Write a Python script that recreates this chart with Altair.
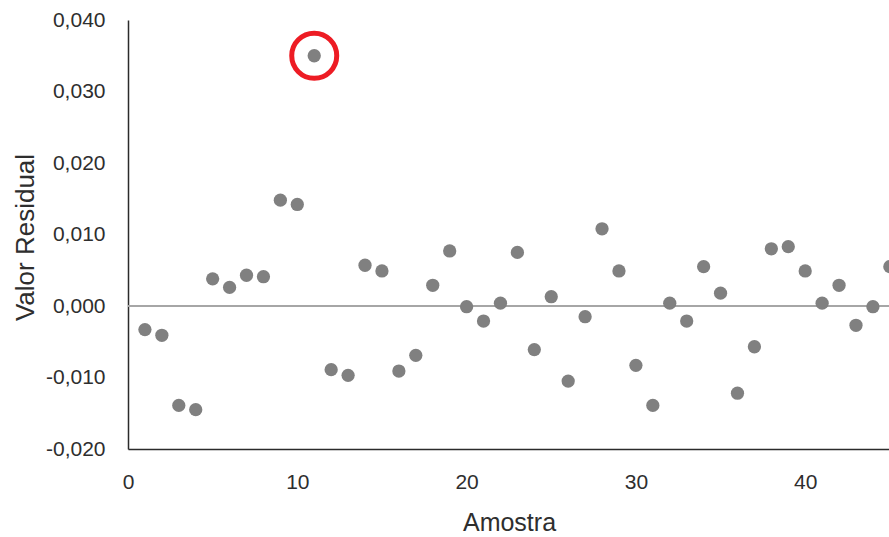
import altair as alt
import pandas as pd

# Residuals per sample
amostra = [1, 2, 3, 4, 5, 6, 7, 8, 9, 10,
           11, 12, 13, 14, 15, 16, 17, 18, 19, 20,
           21, 22, 23, 24, 25, 26, 27, 28, 29, 30,
           31, 32, 33, 34, 35, 36, 37, 38, 39, 40,
           41, 42, 43, 44, 45]
residuo = [-0.0033, -0.0041, -0.0139, -0.0145, 0.0038, 0.0026, 0.0043, 0.0041, 0.0148, 0.0142,
           0.0350, -0.0089, -0.0097, 0.0057, 0.0049, -0.0091, -0.0069, 0.0029, 0.0077, -0.0001,
           -0.0021, 0.0004, 0.0075, -0.0061, 0.0013, -0.0105, -0.0015, 0.0108, 0.0049, -0.0083,
           -0.0139, 0.0004, -0.0021, 0.0055, 0.0018, -0.0122, -0.0057, 0.0080, 0.0083, 0.0049,
           0.0004, 0.0029, -0.0027, -0.0001, 0.0055]

# Sample flagged as outlier
destaque = [11]

x_ticks = [0, 10, 20, 30, 40]
y_ticks = [-0.02, -0.01, 0.0, 0.01, 0.02, 0.03, 0.04]

df = pd.DataFrame({"amostra": amostra, "residuo": residuo})
df_out = df[df["amostra"].isin(destaque)]
df_zero = pd.DataFrame({"y": [0.0]})

FONT = "Liberation Sans"
TXT = "#2e2e2e"

x_scale = alt.Scale(domain=[0, 44.95], nice=False, zero=False)
y_scale = alt.Scale(domain=[-0.02, 0.04], nice=False)

x_axis = alt.Axis(
    values=x_ticks, grid=False, ticks=False, domainColor="#2b2b2b", domainWidth=1.5,
    labelFont=FONT, labelFontSize=21, labelColor=TXT, labelBaseline="alphabetic",
    labelPadding=39, labelFlush=False,
    title="Amostra", titleFont=FONT, titleFontSize=25, titleFontWeight="normal",
    titleColor=TXT, titleBaseline="alphabetic", titleY=81, titleX=381,
)
y_axis = alt.Axis(
    values=y_ticks, grid=False, ticks=False, domainColor="#2b2b2b", domainWidth=1.5,
    labelFont=FONT, labelFontSize=21, labelColor=TXT, labelBaseline="middle",
    labelPadding=23, labelFlush=False,
    labelExpr="replace(replace(format(datum.value, '.3f'), '.', ','), '\u2212', '-')",
    title="Valor Residual", titleFont=FONT, titleFontSize=26, titleFontWeight="normal",
    titleColor=TXT, titleBaseline="alphabetic", titleAngle=270, titleX=-95, titleY=217,
    titleAlign="center",
)

zero_line = alt.Chart(df_zero).mark_rule(color="#A6A6A6", strokeWidth=2).encode(
    y=alt.Y("y:Q", scale=y_scale, axis=y_axis)
)

points = alt.Chart(df).mark_circle(size=176, color="#808080", opacity=1, clip=True).encode(
    x=alt.X("amostra:Q", scale=x_scale, axis=x_axis),
    y=alt.Y("residuo:Q", scale=y_scale, axis=y_axis),
)

ring = alt.Chart(df_out).mark_point(
    shape="circle", filled=False, size=2025, strokeWidth=5, color="#ED1C24", opacity=1
).encode(
    x=alt.X("amostra:Q", scale=x_scale),
    y=alt.Y("residuo:Q", scale=y_scale),
)

chart = (
    alt.layer(zero_line, points, ring)
    .properties(
        width=761, height=429,
        autosize="none",
        padding={"left": 128, "top": 20, "right": 0, "bottom": 88},
        background="white",
    )
    .configure_view(stroke=None)
)

chart.save("out.html", embed_options={"renderer": "svg", "actions": False})
